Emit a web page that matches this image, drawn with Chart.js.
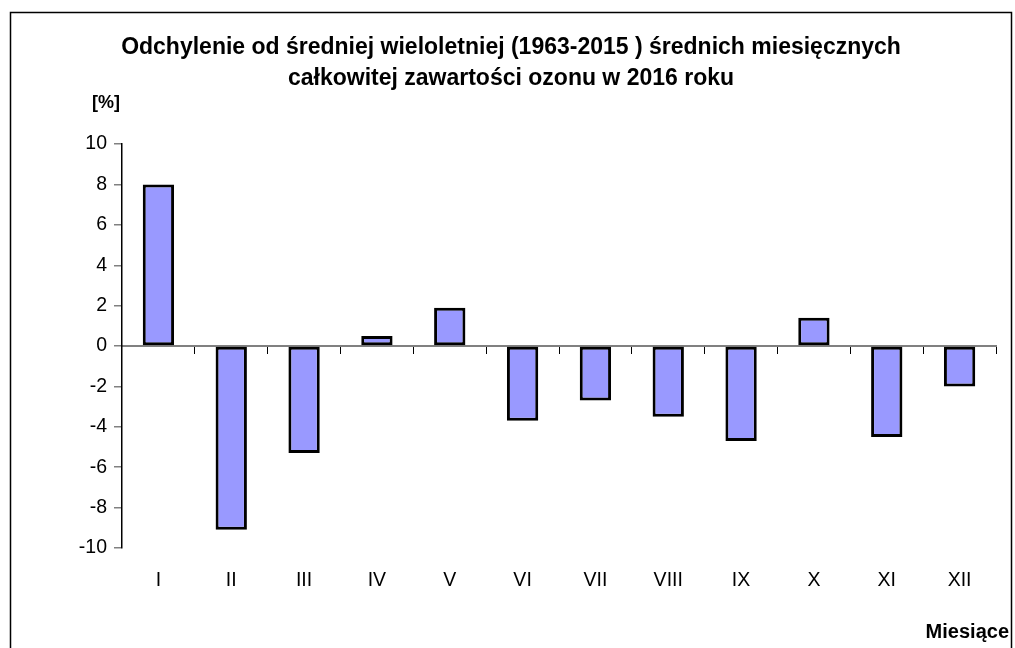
<!DOCTYPE html>
<html>
<head>
<meta charset="utf-8">
<script src="https://cdn.jsdelivr.net/npm/chart.js@4/dist/chart.umd.min.js"></script>
<style>
  html, body { margin: 0; padding: 0; background: #fff; }
  #wrap { width: 1015px; height: 648px; }
</style>
</head>
<body>
<div id="wrap"><canvas id="myChart" width="1015" height="648"></canvas></div>
<script>
const months = ['I', 'II', 'III', 'IV', 'V', 'VI', 'VII', 'VIII', 'IX', 'X', 'XI', 'XII'];
const deviation = [8.0, -9.1, -5.3, 0.5, 1.9, -3.7, -2.7, -3.5, -4.7, 1.4, -4.5, -2.0];
const yTicks = [-10, -8, -6, -4, -2, 0, 2, 4, 6, 8, 10];
const titleLines = ['Odchylenie od średniej wieloletniej (1963-2015 ) średnich miesięcznych',
    'całkowitej zawartości ozonu w 2016 roku'];
const unitLabel = '[%]';
const xAxisName = 'Miesiące';

const font = '"Liberation Sans", Arial, sans-serif';

// frame + the two loose labels
const extras = {
    id: 'extras',
    beforeDraw(chart) {
        const c = chart.ctx;
        c.save();
        c.fillStyle = '#fff';
        c.fillRect(0, 0, chart.width, chart.height);
        c.strokeStyle = '#000';
        c.lineWidth = 1.5;
        c.strokeRect(10.5, 12.5, 1001, 700);
        c.restore();
    },
    afterDraw(chart) {
        const c = chart.ctx;
        c.save();
        c.fillStyle = '#000';
        c.textBaseline = 'middle';
        c.font = 'bold 18px ' + font;
        c.textAlign = 'left';
        c.fillText(unitLabel, 92, 103);
        c.font = 'bold 20px ' + font;
        c.textAlign = 'right';
        c.fillText(xAxisName, 1009, 632);
        c.restore();
    }
};

const ctxEL = document.getElementById('myChart').getContext('2d');
new Chart(ctxEL, {
    type: 'bar',
    data: {
        labels: months,
        datasets: [{
            data: deviation,
            backgroundColor: '#9999FF',
            borderColor: '#000',
            borderWidth: 3,
            borderSkipped: false,
            categoryPercentage: 1,
            barPercentage: 0.43,
            xAxisID: 'x'
        }]
    },
    options: {
        responsive: false,
        animation: false,
        events: [],
        layout: {padding: {left: 26, right: 19, top: 0, bottom: 0}},
        plugins: {
            legend: {display: false},
            tooltip: {enabled: false},
            title: {
                display: true,
                text: titleLines,
                color: '#000',
                font: {family: font, size: 23, weight: 'bold', lineHeight: 1.35},
                padding: {top: 32, bottom: 50}
            }
        },
        scales: {
            x: {
                position: 'bottom',
                grid: {display: false, drawTicks: false},
                border: {display: false},
                ticks: {color: '#000', font: {family: font, size: 19.5}, padding: 21},
                afterFit(scale) { scale.height = 100; }
            },
            zero: {
                type: 'category',
                axis: 'x',
                labels: months,
                position: {y: 0},
                offset: true,
                grid: {
                    offset: true,
                    drawOnChartArea: false,
                    drawTicks: true,
                    tickLength: 7,
                    color: '#000',
                    lineWidth: 1
                },
                border: {display: true, color: '#808080', width: 2},
                ticks: {callback: () => '', padding: 0}
            },
            y: {
                min: -10,
                max: 10,
                afterBuildTicks(scale) { scale.ticks = yTicks.map(v => ({value: v})); },
                grid: {
                    drawOnChartArea: false,
                    drawTicks: true,
                    tickLength: 8,
                    color: '#808080',
                    lineWidth: 1.5
                },
                border: {display: true, color: '#000', width: 1.5},
                ticks: {color: '#000', font: {family: font, size: 19.5}, padding: 7},
                afterFit(scale) { scale.width = 96; }
            }
        }
    },
    plugins: [extras]
});
</script>
</body>
</html>
